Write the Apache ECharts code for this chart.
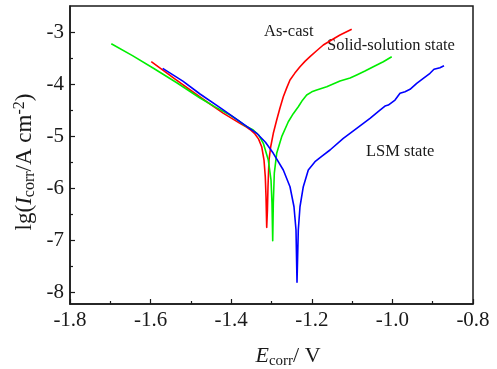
<!DOCTYPE html>
<html>
<head>
<meta charset="utf-8">
<script src="https://cdn.jsdelivr.net/npm/echarts@6/dist/echarts.min.js"></script>
<style>html,body{margin:0;padding:0;background:#fff}#c{width:497px;height:369px}</style>
</head>
<body>
<div id="c"></div>
<script>
// ---- data ----
const asCastE  = [-1.5983,-1.5400,-1.4774,-1.4200,-1.3782,-1.3620,-1.3533,-1.3410,-1.3320,-1.3243,-1.3186,-1.3154,-1.3136,-1.3119,-1.3101,-1.3087,-1.3062,-1.3020,-1.2955,-1.2871,-1.2790,-1.2707,-1.2620,-1.2541,-1.2420,-1.2293,-1.2170,-1.2045,-1.1880,-1.1715,-1.1500,-1.1300,-1.1010];
const asCastLg = [-3.571,-3.900,-4.250,-4.560,-4.756,-4.830,-4.875,-4.960,-5.060,-5.206,-5.462,-5.783,-6.167,-6.756,-6.423,-5.975,-5.462,-5.206,-4.948,-4.692,-4.460,-4.244,-4.070,-3.923,-3.790,-3.667,-3.565,-3.475,-3.360,-3.250,-3.150,-3.058,-2.948];

const ssE  = [-1.6975,-1.6450,-1.5940,-1.5350,-1.4774,-1.4400,-1.4030,-1.3820,-1.3657,-1.3452,-1.3320,-1.3203,-1.3079,-1.3012,-1.2988,-1.2970,-1.2955,-1.2930,-1.2871,-1.2747,-1.2583,-1.2460,-1.2335,-1.2230,-1.2127,-1.2000,-1.1878,-1.1630,-1.1300,-1.1050,-1.0886,-1.0680,-1.0474,-1.0226,-1.0017];
const ssLg = [-3.225,-3.455,-3.692,-3.975,-4.269,-4.440,-4.596,-4.705,-4.800,-4.885,-4.980,-5.140,-5.462,-5.846,-6.288,-7.013,-6.288,-5.712,-5.333,-5.013,-4.725,-4.570,-4.437,-4.310,-4.212,-4.150,-4.115,-4.052,-3.942,-3.885,-3.827,-3.750,-3.667,-3.571,-3.475];

const lsmE  = [-1.5700,-1.5200,-1.4774,-1.4250,-1.3782,-1.3367,-1.3150,-1.2955,-1.2707,-1.2541,-1.2442,-1.2392,-1.2367,-1.2335,-1.2293,-1.2211,-1.2087,-1.1921,-1.1747,-1.1548,-1.1218,-1.0886,-1.0556,-1.0308,-1.0184,-1.0102,-0.9935,-0.9811,-0.9687,-0.9563,-0.9397,-0.9233,-0.9067,-0.8968,-0.8819,-0.8720];
const lsmLg = [-3.698,-3.945,-4.192,-4.470,-4.725,-4.948,-5.120,-5.333,-5.654,-5.975,-6.360,-6.808,-7.813,-6.808,-6.360,-5.975,-5.654,-5.494,-5.385,-5.269,-5.044,-4.852,-4.660,-4.500,-4.423,-4.404,-4.308,-4.179,-4.148,-4.102,-3.987,-3.890,-3.794,-3.717,-3.687,-3.648];

const yMajorTicks = [-8,-7,-6,-5,-4,-3];
const yMinorTicks = [-7.5,-6.5,-5.5,-4.5,-3.5];
const seriesNames = ['As-cast','Solid-solution state','LSM state'];

// ---- chart ----
const zip = (a,b) => a.map((v,i)=>[v,b[i]]);
const serif = "'Liberation Serif','Times New Roman',serif";
const ink = '#1a1a1a';
const chart = echarts.init(document.getElementById('c'), null, {renderer:'canvas'});
const mkSeries = (name, E, L, color) => ({
  name, type:'line', data: zip(E,L), showSymbol:false, symbol:'none',
  smooth:false, yAxisIndex:0,
  lineStyle:{color, width:1.6, join:'round'}, itemStyle:{color}, animation:false
});
chart.setOption({
  animation:false,
  backgroundColor:'#fff',
  grid:{left:70, right:24, top:6, bottom:65, show:true, borderColor:ink, borderWidth:1.5, backgroundColor:'transparent'},
  xAxis:{
    type:'value', min:-1.8, max:-0.8, interval:0.2,
    axisLine:{show:true, lineStyle:{color:ink, width:1.5}},
    axisTick:{show:true, inside:true, length:5, lineStyle:{color:ink, width:1.2}},
    minorTick:{show:true, splitNumber:2, length:3, lineStyle:{color:ink, width:1.2}},
    splitLine:{show:false},
    axisLabel:{fontSize:21, fontFamily:serif, color:ink, margin:6, formatter:v=>v.toFixed(1)}
  },
  yAxis:[{
    type:'value', min:-8.23, max:-2.5, position:'left', offset:0,
    axisLine:{show:true, lineStyle:{color:ink, width:1.5}},
    axisTick:{show:true, inside:true, length:5, customValues:yMajorTicks, lineStyle:{color:ink, width:1.2}},
    axisLabel:{fontSize:21, fontFamily:serif, color:ink, margin:6, customValues:yMajorTicks, formatter:v=>String(Math.round(v))},
    splitLine:{show:false}
  },{
    type:'value', min:-8.23, max:-2.5, position:'left', offset:0,
    axisLine:{show:false},
    axisTick:{show:true, inside:true, length:3, customValues:yMinorTicks, lineStyle:{color:ink, width:1.2}},
    axisLabel:{show:false},
    splitLine:{show:false}
  }],
  series:[
    mkSeries(seriesNames[0], asCastE, asCastLg, '#ff0000'),
    mkSeries(seriesNames[1], ssE, ssLg, '#00ee00'),
    mkSeries(seriesNames[2], lsmE, lsmLg, '#0000ff')
  ],
  graphic:[
    {type:'text', left:264, top:23, style:{text:seriesNames[0], font:'16.5px '+serif, fill:ink}},
    {type:'text', left:327, top:37, style:{text:seriesNames[1], font:'16.5px '+serif, fill:ink}},
    {type:'text', left:366, top:143, style:{text:seriesNames[2], font:'16.5px '+serif, fill:ink}},
    {type:'text', x:288, y:356, style:{
      text:'{i|E}{s|corr}{n|/ V}', align:'center', verticalAlign:'middle',
      rich:{
        i:{fontSize:22, fontFamily:serif, fontStyle:'italic', fill:ink, lineHeight:25, verticalAlign:'middle'},
        s:{fontSize:15, fontFamily:serif, fill:ink, lineHeight:15, verticalAlign:'bottom'},
        n:{fontSize:22, fontFamily:serif, fill:ink, lineHeight:25, verticalAlign:'middle'}
      }}},
    {type:'text', x:25, y:162, rotation:Math.PI/2, style:{
      text:'{n|lg(}{i|I}{s|corr}{n|/A cm}{p|-2}{n|)}', align:'center', verticalAlign:'middle',
      rich:{
        n:{fontSize:23, fontFamily:serif, fill:ink, lineHeight:26, verticalAlign:'middle'},
        i:{fontSize:23, fontFamily:serif, fontStyle:'italic', fill:ink, lineHeight:26, verticalAlign:'middle'},
        s:{fontSize:16, fontFamily:serif, fill:ink, lineHeight:16, verticalAlign:'bottom'},
        p:{fontSize:16, fontFamily:serif, fill:ink, lineHeight:16, verticalAlign:'top'}
      }}}
  ]
});
</script>
</body>
</html>
